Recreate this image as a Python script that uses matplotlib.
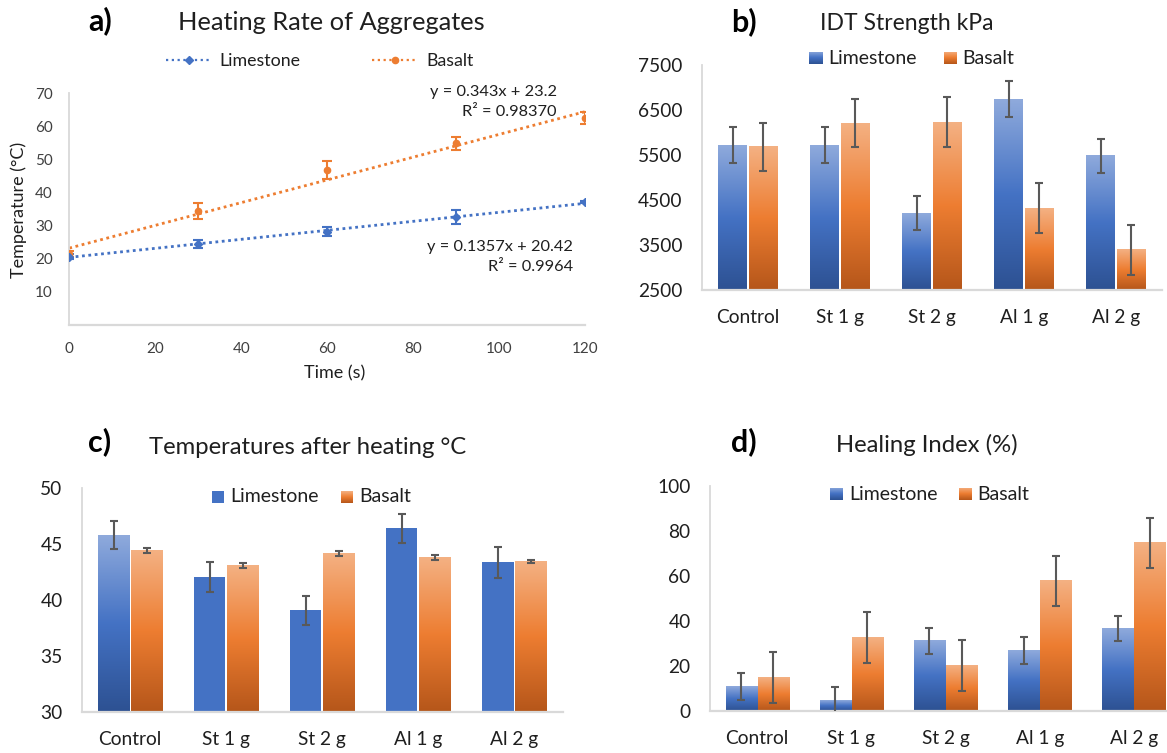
import numpy as np
import matplotlib
matplotlib.use("Agg")
import matplotlib.pyplot as plt
from matplotlib.lines import Line2D
from matplotlib.colors import LinearSegmentedColormap

plt.rcParams['font.family'] = ['Lato', 'DejaVu Sans']

# ---------------- data ----------------
time_s = [0, 30, 60, 90, 120]
heat_limestone = [20.6, 24.4, 28.2, 32.7, 37.1]
heat_limestone_err = [0.7, 1.1, 1.4, 2.1, 0.4]
heat_basalt = [21.4, 34.4, 46.8, 54.8, 62.4]
heat_basalt_err = [0.8, 2.4, 2.6, 1.9, 1.9]
trend_limestone = [0.1357, 20.42]
trend_basalt = [0.343, 23.2]
trend_limestone_label = "y = 0.1357x + 20.42\nR² = 0.9964"
trend_basalt_label = "y = 0.343x + 23.2\nR² = 0.98370"

categories = ["Control", "St 1 g", "St 2 g", "Al 1 g", "Al 2 g"]

idt_limestone = [5722, 5722, 4211, 6744, 5478]
idt_limestone_err = [400, 390, 385, 400, 385]
idt_basalt = [5678, 6211, 6233, 4322, 3389]
idt_basalt_err = [540, 540, 548, 556, 548]

temp_limestone = [45.76, 42.03, 39.07, 46.39, 43.36]
temp_limestone_err = [1.25, 1.33, 1.27, 1.33, 1.37]
temp_basalt = [44.43, 43.10, 44.16, 43.80, 43.45]
temp_basalt_err = [0.2, 0.2, 0.2, 0.2, 0.15]
temp_limestone_fill = ["gradient", "solid", "solid", "solid", "solid"]

heal_limestone = [10.9, 4.7, 31.3, 26.9, 36.6]
heal_limestone_err = [5.8, 5.9, 5.8, 5.9, 5.5]
heal_basalt = [14.9, 32.6, 20.2, 57.9, 74.7]
heal_basalt_err = [11.2, 11.2, 11.2, 11.2, 11.1]

# ---------------- style ----------------
W, H = 1167, 753
BLUE = "#4472C4"
ORANGE = "#ED7D31"
BLUE_GRAD = ["#2D5192", "#4472C4", "#8FAADC"]     # bottom -> top
ORANGE_GRAD = ["#B5561A", "#ED7D31", "#F4B183"]
AXIS_GRAY = "#D9D9D9"
ERR_GRAY = "#595959"
TXT = "#1F1F1F"

fig = plt.figure(figsize=(W / 100, H / 100), dpi=100)


def axes_px(left, right, top, bottom):
    return fig.add_axes([left / W, 1 - bottom / H, (right - left) / W, (bottom - top) / H])


def ftext(x, y, s, **kw):
    kw.setdefault("ha", "center")
    kw.setdefault("va", "center")
    kw.setdefault("color", TXT)
    return fig.text(x / W, 1 - y / H, s, **kw)


def style_axes(ax, tick_fs, xpad, ypad):
    for side in ["top", "right"]:
        ax.spines[side].set_visible(False)
    ax.spines["left"].set_color(AXIS_GRAY)
    ax.spines["left"].set_linewidth(1.3)
    ax.spines["bottom"].set_color(AXIS_GRAY)
    ax.spines["bottom"].set_linewidth(1.6)
    ax.tick_params(axis="x", length=0, pad=xpad, labelsize=tick_fs, colors=TXT)
    ax.tick_params(axis="y", length=0, pad=ypad, labelsize=tick_fs, colors=TXT)


def gradient_fill(ax, patch, colors):
    cmap = LinearSegmentedColormap.from_list("g", colors)
    arr = np.linspace(0, 1, 256).reshape(-1, 1)
    x0, y0 = patch.get_x(), patch.get_y()
    x1, y1 = x0 + patch.get_width(), y0 + patch.get_height()
    ax.imshow(arr, cmap=cmap, extent=[x0, x1, y0, y1], origin="lower",
              aspect="auto", interpolation="bilinear", zorder=2)


def grouped_bars(ax, base, lim_vals, lim_err, bas_vals, bas_err, width, off,
                 lim_fill=None, capsize=3.2):
    x = np.arange(len(categories))
    b1 = ax.bar(x - off, np.subtract(lim_vals, base), width=width, bottom=base,
                color="none", edgecolor="none")
    b2 = ax.bar(x + off, np.subtract(bas_vals, base), width=width, bottom=base,
                color="none", edgecolor="none")
    for i, p in enumerate(b1):
        if lim_fill is not None and lim_fill[i] == "solid":
            p.set_facecolor(BLUE)
            p.set_zorder(2)
        else:
            gradient_fill(ax, p, BLUE_GRAD)
    for p in b2:
        gradient_fill(ax, p, ORANGE_GRAD)
    ax.errorbar(x - off, lim_vals, yerr=lim_err, fmt="none", ecolor=ERR_GRAY,
                elinewidth=1.5, capsize=capsize, capthick=1.5, zorder=4)
    ax.errorbar(x + off, bas_vals, yerr=bas_err, fmt="none", ecolor=ERR_GRAY,
                elinewidth=1.5, capsize=capsize, capthick=1.5, zorder=4)
    ax.set_xticks(x)
    ax.set_xticklabels(categories)
    ax.set_xlim(-0.5, len(categories) - 0.5)


def legend_square(x, y, size, colors, solid=None):
    a = fig.add_axes([(x - size / 2) / W, 1 - (y + size / 2) / H, size / W, size / H])
    a.set_axis_off()
    if solid is not None:
        a.add_patch(plt.Rectangle((0, 0), 1, 1, color=solid))
        a.set_xlim(0, 1)
        a.set_ylim(0, 1)
    else:
        cmap = LinearSegmentedColormap.from_list("g", colors)
        arr = np.linspace(0, 1, 64).reshape(-1, 1)
        a.imshow(arr, cmap=cmap, extent=[0, 1, 0, 1], origin="lower",
                 aspect="auto", interpolation="bilinear")


# ================= panel a =================
axa = axes_px(69.3, 585, 93, 325)
style_axes(axa, 11, 12, 12)
xx = np.array([min(time_s), max(time_s)])
axa.plot(xx, trend_basalt[0] * xx + trend_basalt[1], linestyle=(0, (1, 1.3)),
         color=ORANGE, lw=2.0, zorder=2)
axa.plot(xx, trend_limestone[0] * xx + trend_limestone[1], linestyle=(0, (1, 1.3)),
         color=BLUE, lw=2.0, zorder=2)
axa.errorbar(time_s, heat_basalt, yerr=heat_basalt_err, fmt="o", ms=4.5,
             color=ORANGE, ecolor=ORANGE, elinewidth=1.5, capsize=3.5,
             capthick=1.5, zorder=3)
axa.errorbar(time_s, heat_limestone, yerr=heat_limestone_err, fmt="D", ms=4,
             color=BLUE, ecolor=BLUE, elinewidth=1.5, capsize=3.5,
             capthick=1.5, zorder=3)
axa.set_xlim(0, 120)
axa.set_ylim(0, 70)
axa.set_xticks([0, 20, 40, 60, 80, 100, 120])
axa.set_yticks([10, 20, 30, 40, 50, 60, 70])
for lab in axa.get_yticklabels() + axa.get_xticklabels():
    lab.set_color("#404040")

handles = [Line2D([], [], color=BLUE, lw=1.6, linestyle=(0, (1, 1.6)),
                  marker="D", ms=4),
           Line2D([], [], color=ORANGE, lw=1.6, linestyle=(0, (1, 1.6)),
                  marker="o", ms=4.5)]
fig.legend(handles, ["Limestone", "Basalt"], loc="center",
           bbox_to_anchor=(319.5 / W, 1 - 61 / H), ncol=2, frameon=False,
           fontsize=12.8, handlelength=2.6, handletextpad=0.45,
           columnspacing=4.0, labelcolor=TXT)

ftext(100, 21, "a)", fontsize=22, fontweight="bold", color="black")
ftext(331, 22, "Heating Rate of Aggregates", fontsize=18.3)
ftext(18.5, 210, "Temperature (°C)", fontsize=13, rotation=90)
ftext(335, 373, "Time (s)", fontsize=13)
ftext(493, 102, trend_basalt_label, fontsize=11.8, linespacing=1.5,
      ha="center", multialignment="right")
ftext(500, 257, trend_limestone_label, fontsize=11.8, linespacing=1.5,
      ha="center", multialignment="right")

# ================= panel b =================
axb = axes_px(702, 1162, 65, 290)
style_axes(axb, 13.8, 14, 14)
grouped_bars(axb, 2500, idt_limestone, idt_limestone_err, idt_basalt,
             idt_basalt_err, width=0.315, off=0.168)
axb.set_ylim(2500, 7500)
axb.set_yticks([2500, 3500, 4500, 5500, 6500, 7500])
ftext(744, 22, "b)", fontsize=22, fontweight="bold", color="black")
ftext(907, 24, "IDT Strength kPa", fontsize=16.5)
legend_square(815, 58, 13, BLUE_GRAD)
ftext(828, 58, "Limestone", fontsize=14, ha="left")
legend_square(950, 58, 13, ORANGE_GRAD)
ftext(962, 58, "Basalt", fontsize=14, ha="left")

# ================= panel c =================
axc = axes_px(82, 562.5, 488, 712)
style_axes(axc, 13.8, 14, 14)
grouped_bars(axc, 30, temp_limestone, temp_limestone_err, temp_basalt,
             temp_basalt_err, width=0.325, off=0.172, lim_fill=temp_limestone_fill)
axc.set_ylim(30, 50)
axc.set_yticks([30, 35, 40, 45, 50])
ftext(100, 442, "c)", fontsize=22, fontweight="bold", color="black")
ftext(308, 447, "Temperatures after heating °C", fontsize=17.2)
legend_square(218, 497, 12, None, solid=BLUE)
ftext(230, 497, "Limestone", fontsize=14, ha="left")
legend_square(347, 497, 12, ORANGE_GRAD)
ftext(359, 497, "Basalt", fontsize=14, ha="left")

# ================= panel d =================
axd = axes_px(710, 1181, 486, 711)
style_axes(axd, 13.8, 14, 14)
grouped_bars(axd, 0, heal_limestone, heal_limestone_err, heal_basalt,
             heal_basalt_err, width=0.33, off=0.17)
axd.set_ylim(0, 100)
axd.set_yticks([0, 20, 40, 60, 80, 100])
ftext(744, 442, "d)", fontsize=22, fontweight="bold", color="black")
ftext(927, 445, "Healing Index (%)", fontsize=17.2)
legend_square(836, 494, 13, BLUE_GRAD)
ftext(849, 494, "Limestone", fontsize=14, ha="left")
legend_square(965, 494, 13, ORANGE_GRAD)
ftext(977, 494, "Basalt", fontsize=14, ha="left")

fig.savefig("out.png", dpi=100, facecolor="white")
